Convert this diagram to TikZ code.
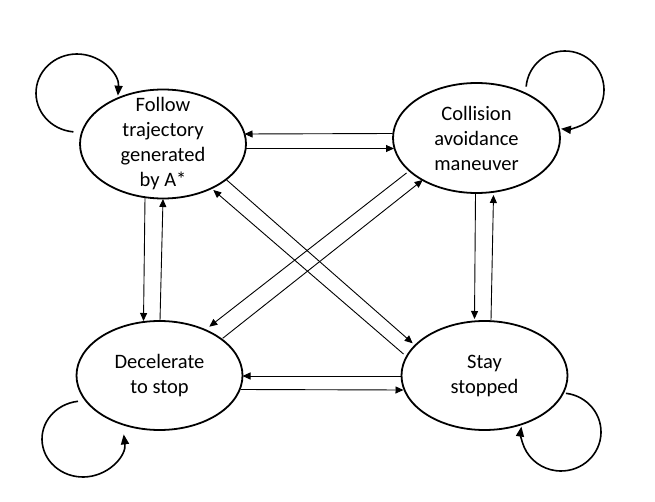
\documentclass[tikz,border=0pt]{standalone}
\usepackage{fontspec}
\setmainfont{Carlito}
\usetikzlibrary{shapes.geometric,arrows.meta,calc}
\tikzset{
  state/.style={draw, ellipse, line width=1.8pt, inner sep=0pt, minimum width=166pt, minimum height=109pt},
  statetext/.style={align=center, font=\fontsize{20.5pt}{25pt}\selectfont, inner sep=0pt},
  trans/.style={line width=0.9pt, -{Triangle[length=8pt,width=7pt]}},
  selfloop/.style={line width=1.6pt, -{Triangle[length=10pt,width=8pt]}}
}
\begin{document}
\begin{tikzpicture}[x=1pt,y=-1pt]
\useasboundingbox (0,0) rectangle (655,502);
\fill[white] (0,0) rectangle (655,502);

\node[state] (tl) at (163,144) {};
\node[state, minimum width=167pt, minimum height=110pt] (tr) at (476.5,138) {};
\node[state] (bl) at (159.5,375.5) {};
\node[state] (br) at (484.5,375.5) {};

\node[statetext] (tltext) at (tl) {Follow\\trajectory\\generated\\by A*};
\node[statetext] (trtext) at (tr) {Collision\\avoidance\\maneuver};
\node[statetext] (bltext) at (bl) {Decelerate\\to stop};
\node[statetext] (brtext) at (br) {Stay\\stopped};

% top pair
\draw[trans] ($(tr)+(-84,-4.5)$) -- ($(tl)+(81.5,-10)$);
\draw[trans] ($(tl)+(82,4.5)$) -- ($(tr)+(-82.5,10.5)$);
% bottom pair
\draw[trans] ($(br)+(-82.5,0.5)$) -- ($(bl)+(83,0.5)$);
\draw[trans] ($(bl)+(81,14)$) -- ($(br)+(-81,14.5)$);
% left vertical pair
\draw[trans] ($(tl)+(-18,54)$) -- ($(bl)+(-16,-54.5)$);
\draw[trans] ($(bl)+(0.5,-55)$) -- ($(tl)+(0,55)$);
% right vertical pair
\draw[trans] ($(tr)+(-1,56)$) -- ($(br)+(-10,-56.5)$);
\draw[trans] ($(br)+(6.5,-55.5)$) -- ($(tr)+(17,57)$);
% diagonals TL-BR
\draw[trans] ($(tl)+(63.7,36)$) -- ($(br)+(-71.8,-32.2)$);
\draw[trans] ($(br)+(-81,-21.5)$) -- ($(tl)+(50.3,46)$);
% diagonals TR-BL
\draw[trans] ($(tr)+(-70,35)$) -- ($(bl)+(49.8,-48.8)$);
\draw[trans] ($(bl)+(63.2,-37.2)$) -- ($(tr)+(-53.8,42)$);

% self loops
\draw[selfloop] ($(tl)+(-86,-51)$) ++(265:41pt and 39pt) arc[start angle=265, end angle=-4, x radius=41pt, y radius=39pt];
\draw[selfloop] ($(tr)+(88.5,-48)$) ++(175:39pt and 39pt) arc[start angle=175, end angle=-96, x radius=39pt, y radius=39pt];
\draw[selfloop] ($(bl)+(-76.5,63.5)$) ++(97:41pt and 38pt) arc[start angle=97, end angle=367, x radius=41pt, y radius=38pt];
\draw[selfloop] ($(br)+(76.5,56.5)$) ++(83:40pt and 39pt) arc[start angle=83, end angle=-188, x radius=40pt, y radius=39pt];
\end{tikzpicture}
\end{document}
